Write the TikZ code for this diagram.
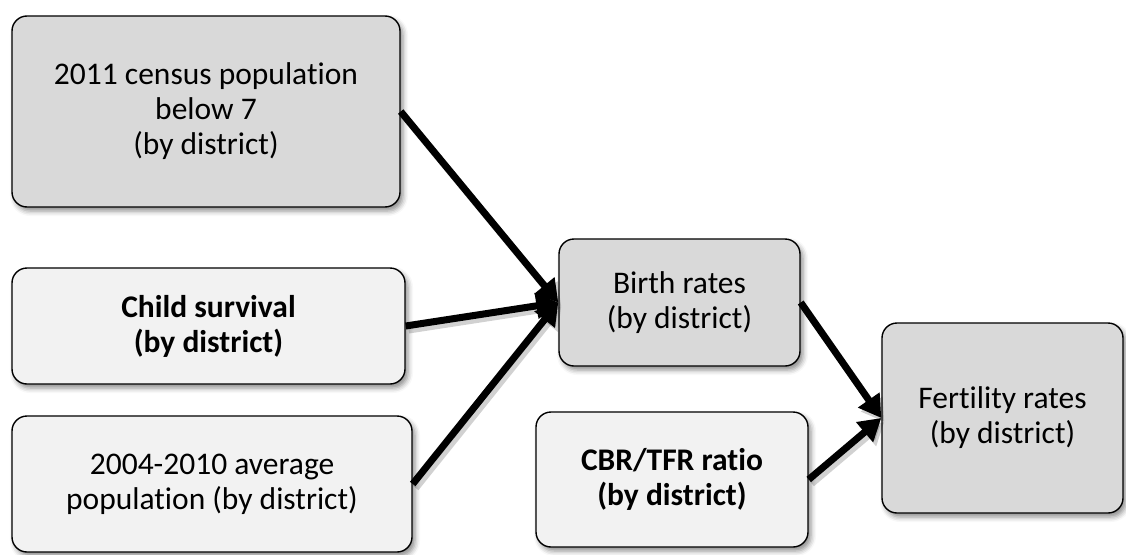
\documentclass[tikz,border=0pt]{standalone}
\usepackage{fontspec}
\setmainfont{Carlito}[Ligatures=NoCommon]
\usetikzlibrary{arrows.meta,shadows.blur}
\definecolor{darkbox}{HTML}{D9D9D9}
\definecolor{lightbox}{HTML}{F2F2F2}
\tikzset{
  flowbox/.style={draw=black, line width=1.4pt, rounded corners=15pt, inner sep=0pt,
    align=center, font=\fontsize{31.5}{35}\selectfont,
    blur shadow={shadow xshift=3pt, shadow yshift=-4pt, shadow blur radius=5pt, shadow opacity=45}},
  darkfill/.style={fill=darkbox},
  lightfill/.style={fill=lightbox},
  flowarrow/.style={line width=7pt, -{Triangle[length=22pt,width=25pt]}},
  arrowshadow/.style={line width=7pt, -{Triangle[length=22pt,width=25pt]}, draw=black, opacity=0.18,
    transform canvas={xshift=3pt,yshift=-4pt}}
}
\begin{document}
\begin{tikzpicture}[x=1pt,y=-1pt]
\useasboundingbox (0,0) rectangle (1126,554);
\node[flowbox,darkfill,minimum width=388pt,minimum height=191pt] (a) at (206,111.5)
  {2011 census population\\below 7\\(by district)};
\node[flowbox,lightfill,minimum width=393pt,minimum height=116pt] (b) at (208.5,326)
  {\bfseries Child survival\\\bfseries (by district)};
\node[flowbox,lightfill,minimum width=400pt,minimum height=136pt] (c) at (212,484)
  {2004-2010 average\\population (by district)};
\node[flowbox,darkfill,minimum width=241pt,minimum height=127pt] (d) at (679.5,302.5)
  {Birth rates\\(by district)};
\node[flowbox,lightfill,minimum width=272pt,minimum height=135pt] (e) at (672,479.5)
  {\bfseries CBR/TFR ratio\\\bfseries (by district)};
\node[flowbox,darkfill,minimum width=241pt,minimum height=190pt] (f) at (1002.5,418)
  {Fertility rates\\(by district)};
% arrow shadows
\draw[arrowshadow] (a.east) -- (d.west);
\draw[arrowshadow] (b.east) -- (d.west);
\draw[arrowshadow] (c.east) -- (d.west);
\draw[arrowshadow] (d.east) -- (f.west);
\draw[arrowshadow] (e.east) -- (f.west);
% arrows
\draw[flowarrow] (a.east) -- (d.west);
\draw[flowarrow] (b.east) -- (d.west);
\draw[flowarrow] (c.east) -- (d.west);
\draw[flowarrow] (d.east) -- (f.west);
\draw[flowarrow] (e.east) -- (f.west);
\end{tikzpicture}
\end{document}
